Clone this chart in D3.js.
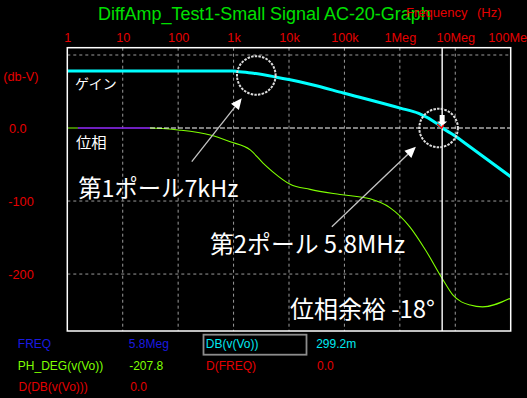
<!DOCTYPE html>
<html><head><meta charset="utf-8">
<script src="https://cdn.jsdelivr.net/npm/d3@7"></script>
<style>html,body{margin:0;padding:0;background:#000;overflow:hidden}</style>
</head><body>
<svg id="c" width="527" height="398"></svg>
<script>
// ---- data ----
const freqTicks = [1, 10, 100, 1e3, 1e4, 1e5, 1e6, 1e7, 1e8];
const freqTickLabels = ["1", "10", "100", "1k", "10k", "100k", "1Meg", "10Meg", "100Meg"];
const yTicks = [0, -100, -200];
const yTickLabels = ["0.0", "-100", "-200"];
const yGrid = [100, -100, -200];

const gainFreq = [1, 1e3, 1150, 2290, 5620, 10500, 24000, 95500, 1.02e6, 2.19e6, 4.68e6, 5.8e6, 9.33e6, 18.6e6, 1e8];
const gainDb   = [78, 78, 77.5, 75, 70, 66, 60, 48, 27.2, 20, 6, 0.3, -9.6, -26, -66.7];

const phaseFreq = [1, 31, 100, 380, 870, 2000, 3400, 5100, 10500, 24000, 83000, 290000, 660000, 1.5e6, 2.9e6, 5.8e6, 9.1e6, 18.6e6, 31e6, 1e8];
const phaseDeg  = [0, 0, -2.7, -9.6, -18.8, -30, -48, -60, -77, -84, -91, -97, -109, -135, -167, -206, -229, -242.5, -245, -233];

const markFreq = [1.55, 31];
const markDeg = [0, 0];

const cursorFreq = 5.8e6;
const cursorLevel = 0;

const readoutNames  = ["FREQ", "PH_DEG(v(Vo))", "D(DB(v(Vo)))", "DB(v(Vo))", "D(FREQ)"];
const readoutValues = ["5.8Meg", "-207.8", "0.0", "299.2m", "0.0"];

const titleText = "DiffAmp_Test1-Small Signal AC-20-Graph";
const notes = ["ゲイン", "位相", "第1ポール7kHz", "第2ポール 5.8MHz", "位相余裕 -18°"];

// ---- layout ----
const L = 67.3, R = 510.7, T = 47.7, B = 331;
const svg = d3.select("#c");
svg.append("rect").attr("width", 527).attr("height", 398).attr("fill", "#000");

const x = d3.scaleLog().domain([1, 1e8]).range([L, R]);
const y = d3.scaleLinear().domain([-278, 110]).range([B, T]);

const latin = "'Liberation Sans', Arial, sans-serif";
const cjk = "'Noto Sans CJK JP', sans-serif";
const RED = "#e40000", GREEN = "#7fff00", CYAN = "#00ffff", BLUE = "#1a1ae0";

function fit(sel, w) {
  const n = sel.node();
  const fs = parseFloat(sel.attr("font-size"));
  const len = n.getComputedTextLength();
  if (len > 0) sel.attr("font-size", (fs * w / len).toFixed(2));
  return sel;
}

// title
fit(svg.append("text").attr("x", 98).attr("y", 19.5).attr("fill", "#00e000")
  .attr("font-family", latin).attr("font-size", 18).text(titleText), 333);
svg.append("text").attr("x", 406).attr("y", 16.5).attr("fill", RED)
  .attr("font-family", latin).attr("font-size", 13).text("Frequency");
svg.append("text").attr("x", 477).attr("y", 16.5).attr("fill", RED)
  .attr("font-family", latin).attr("font-size", 13).text("(Hz)");

// grid
const grid = svg.append("g");
grid.selectAll("line.v").data(freqTicks.slice(1, -1)).enter().append("line")
  .attr("x1", d => x(d)).attr("x2", d => x(d)).attr("y1", T).attr("y2", B)
  .attr("stroke", "#9a9a9a").attr("stroke-width", 1).attr("stroke-dasharray", "3,3");
grid.selectAll("line.h").data(yGrid).enter().append("line")
  .attr("x1", L).attr("x2", R).attr("y1", d => y(d)).attr("y2", d => y(d))
  .attr("stroke", "#9a9a9a").attr("stroke-width", 1).attr("stroke-dasharray", "3,3");

// top axis
const xAxis = d3.axisTop(x).tickValues(freqTicks).tickFormat((d, i) => freqTickLabels[i])
  .tickSize(0).tickPadding(5.7);
const gx = svg.append("g").attr("transform", `translate(0,${T})`).call(xAxis);
gx.select(".domain").remove();
gx.selectAll("text").attr("fill", RED).attr("font-family", latin).attr("font-size", 12.7);

// left axis
const yAxis = d3.axisLeft(y).tickValues(yTicks).tickFormat((d, i) => yTickLabels[i]).tickSize(0);
const gy = svg.append("g").attr("transform", `translate(${L},0)`).call(yAxis);
gy.select(".domain").remove();
gy.selectAll("text").attr("fill", RED).attr("font-family", latin).attr("font-size", 12.7)
  .attr("text-anchor", "start").attr("x", (d) => (d === 0 ? 9 : 8.3) - L);
svg.append("text").attr("x", 3.3).attr("y", 76.7).attr("dy", "0.35em").attr("fill", RED)
  .attr("font-family", latin).attr("font-size", 12.7).text("(db-V)");

// clip
svg.append("clipPath").attr("id", "clip").append("rect")
  .attr("x", L).attr("y", T).attr("width", R - L).attr("height", B - T);
const plot = svg.append("g").attr("clip-path", "url(#clip)");

const line = d3.line().x(d => x(d[0])).y(d => y(d[1])).curve(d3.curveMonotoneX);

// phase
plot.append("path").attr("d", line(phaseFreq.map((f, i) => [f, phaseDeg[i]])))
  .attr("fill", "none").attr("stroke", GREEN).attr("stroke-width", 1.1);
// purple marker segment
plot.append("path").attr("d", line(markFreq.map((f, i) => [f, markDeg[i]])))
  .attr("fill", "none").attr("stroke", "#8000ff").attr("stroke-width", 1.5);
// horizontal cursor (white dashed) from end of marker
plot.append("line").attr("x1", x(markFreq[1])).attr("x2", R)
  .attr("y1", y(cursorLevel)).attr("y2", y(cursorLevel))
  .attr("stroke", "#ffffff").attr("stroke-width", 1.2).attr("stroke-dasharray", "5,2");
// gain
plot.append("path").attr("d", line(gainFreq.map((f, i) => [f, gainDb[i]])))
  .attr("fill", "none").attr("stroke", CYAN).attr("stroke-width", 3);

// vertical cursor
const cx = x(cursorFreq), cy = y(cursorLevel);
svg.append("line").attr("x1", cx).attr("x2", cx).attr("y1", T).attr("y2", B)
  .attr("stroke", "#ffffff").attr("stroke-width", 1.4);
// cursor marker
svg.append("path")
  .attr("d", `M${cx-2.5},${cy-13} L${cx+2.5},${cy-13} L${cx+2.5},${cy-6.5} L${cx+5},${cy-6.5} L${cx},${cy-2} L${cx-5},${cy-6.5} L${cx-2.5},${cy-6.5} Z`)
  .attr("fill", "#ffffff");
svg.append("path").attr("d", `M${cx-5},${cy-4} L${cx-0.5},${cy} L${cx+1.5},${cy-3}`)
  .attr("fill", "none").attr("stroke", "#ff0000").attr("stroke-width", 1.5);

// border
svg.append("rect").attr("x", L).attr("y", T).attr("width", R - L).attr("height", B - T)
  .attr("fill", "none").attr("stroke", "#ffffff").attr("stroke-width", 1.5);

// annotation circles
const circles = [[2570, 72], [5.0e6, 0]];
svg.selectAll("circle.a").data(circles).enter().append("circle")
  .attr("cx", d => x(d[0])).attr("cy", d => y(d[1])).attr("r", 19.3)
  .attr("fill", "none").attr("stroke", "#dcdcdc").attr("stroke-width", 2)
  .attr("stroke-dasharray", "2.5,1.2");

// arrows
const arrows = [[[176, -46], [1406, 40.7]], [[59300, -135.2], [1.945e6, -25.6]]];
arrows.forEach(a => {
  const x0 = x(a[0][0]), y0 = y(a[0][1]), x1 = x(a[1][0]), y1 = y(a[1][1]);
  const ang = Math.atan2(y1 - y0, x1 - x0);
  const hl = 11, hw = 5;
  const bx = x1 - hl * Math.cos(ang), by = y1 - hl * Math.sin(ang);
  svg.append("line").attr("x1", x0).attr("y1", y0).attr("x2", bx).attr("y2", by)
    .attr("stroke", "#c4c4c4").attr("stroke-width", 1.3);
  const px = -Math.sin(ang) * hw, py = Math.cos(ang) * hw;
  svg.append("path").attr("d", `M${x1},${y1} L${bx+px},${by+py} L${bx-px},${by-py} Z`)
    .attr("fill", "#ffffff");
});

// annotation texts
const notePos = [[75, 88.5, 14, 41.7], [76, 148, 15.5, 30.7], [78.3, 196.5, 22, 160], [210, 253, 22, 195], [290, 317.5, 22, 145]];
notes.forEach((t, i) => {
  const p = notePos[i];
  const s = svg.append("text").attr("x", p[0]).attr("y", p[1]).attr("fill", "#ffffff")
    .attr("font-family", cjk).attr("font-size", p[2]).text(t);
  fit(s, p[3]);
});

// readout table
const tbl = [
  [readoutNames[0], 17.8, 348.3, BLUE], [readoutValues[0], 128.8, 348.3, BLUE],
  [readoutNames[1], 17.8, 369.6, GREEN], [readoutValues[1], 129.2, 369.6, GREEN],
  [readoutNames[2], 18.5, 391, RED], [readoutValues[2], 130.2, 391, RED],
  [readoutNames[3], 205.8, 348.3, "#00e8f0"], [readoutValues[3], 316.2, 348.3, "#00e8f0"],
  [readoutNames[4], 206, 369.6, RED], [readoutValues[4], 317, 369.6, RED]
];
svg.append("rect").attr("x", 203.5).attr("y", 334.7).attr("width", 103).attr("height", 20)
  .attr("fill", "none").attr("stroke", "#8c8c8c").attr("stroke-width", 1.8);
tbl.forEach(r => {
  svg.append("text").attr("x", r[1]).attr("y", r[2]).attr("fill", r[3])
    .attr("font-family", latin).attr("font-size", 12).text(r[0]);
});
</script>
</body></html>
